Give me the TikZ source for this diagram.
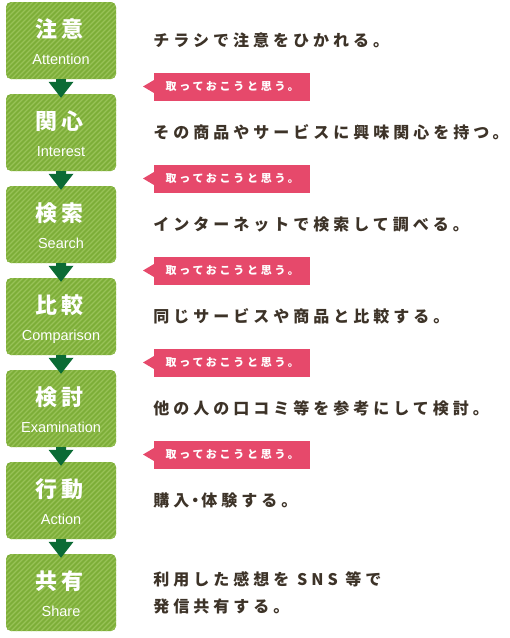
\documentclass[tikz,border=0pt]{standalone}
\usepackage{fontspec}
\setmainfont{Liberation Sans}
\newfontfamily\jp{Noto Sans CJK JP}[LetterSpace=25]
\newfontfamily\jpttl{Noto Sans CJK JP}[LetterSpace=16]
\newfontfamily\jptag{Noto Sans CJK JP}[LetterSpace=25]
\usetikzlibrary{positioning,calc,arrows.meta,trees}
\definecolor{boxgreen}{HTML}{7DAE38}
\definecolor{stripegreen}{HTML}{98C257}
\definecolor{arrowgreen}{HTML}{0B6B35}
\definecolor{tagpink}{HTML}{E6496B}
\definecolor{textbrown}{HTML}{3D3328}
\tikzset{
  level distance=92pt,
  edge from parent/.style = {draw=arrowgreen, line width=10pt, shorten >=-4pt, -{Triangle[width=25pt,length=16pt,line width=0pt]}},
  stripe/.style = {draw=stripegreen, line width=1.2pt},
  stage/.style 2 args = {rectangle, rounded corners=5pt, fill=boxgreen, minimum width=110pt, minimum height=77pt, inner sep=0pt,
    path picture={\foreach \s in {-80,-75,...,110} \draw[stripe] ($(path picture bounding box.south west)+(\s pt,0)$) -- ++(90pt,90pt);},
    label={[ttl]center:#1}, label={[eng]center:#2}},
  ttl/.style = {xshift=-1.5pt, yshift=11.5pt, inner sep=0pt, text height=18.5pt, text depth=2.5pt, text=white, font=\fontsize{22pt}{22pt}\selectfont\jpttl\bfseries},
  eng/.style = {yshift=-20pt, inner sep=0pt, text height=10.5pt, text depth=3pt, text=white, font=\fontsize{14.5pt}{14.5pt}\selectfont},
  desc/.style = {inner sep=0pt, align=left, text=textbrown, font=\fontsize{16pt}{27pt}\selectfont\jp\bfseries},
  tag/.style = {rectangle, fill=tagpink, minimum width=156pt, minimum height=28pt, inner sep=0pt, text=white, font=\fontsize{11pt}{11pt}\selectfont\jptag\bfseries}
}
\begin{document}
\begin{tikzpicture}[x=1pt,y=1pt]
  \useasboundingbox (0,0) rectangle (510,-638);
  \node [stage={注意}{Attention}] (b1) at (61,-40.5) {}
    child{ node [stage={関心}{Interest}] (b2) {}
      child{ node [stage={検索}{Search}] (b3) {}
        child{ node [stage={比較}{Comparison}] (b4) {}
          child{ node [stage={検討}{Examination}] (b5) {}
            child{ node [stage={行動}{Action}] (b6) {}
              child{ node [stage={共有}{Share}] (b7) {}}
            }
          }
        }
      }
    };

  \node [desc, right=37pt of b1] (d1) {チラシで注意をひかれる。};
  \node [desc, right=37pt of b2] (d2) {その商品やサービスに興味関心を持つ。};
  \node [desc, right=37pt of b3] (d3) {インターネットで検索して調べる。};
  \node [desc, right=37pt of b4] (d4) {同じサービスや商品と比較する。};
  \node [desc, right=37pt of b5] (d5) {他の人の口コミ等を参考にして検討。};
  \node [desc, right=37pt of b6] (d6) {購入{\kern-2pt}・{\kern-2pt}体験する。};
  \node [desc, right=37pt of b7] (d7) {利用した感想を SNS 等で\\発信共有する。};

  % pink notes between the steps
  \node [tag, anchor=west] (k1) at ($(b1)!.5!(b2) + (93pt,0)$) {取っておこうと思う。};
  \node [tag, anchor=west] (k2) at ($(b2)!.5!(b3) + (93pt,0)$) {取っておこうと思う。};
  \node [tag, anchor=west] (k3) at ($(b3)!.5!(b4) + (93pt,0)$) {取っておこうと思う。};
  \node [tag, anchor=west] (k4) at ($(b4)!.5!(b5) + (93pt,0)$) {取っておこうと思う。};
  \node [tag, anchor=west] (k5) at ($(b5)!.5!(b6) + (93pt,0)$) {取っておこうと思う。};
  \foreach \i in {1,...,5}
    \fill [tagpink] (k\i.west) ++(0,6.5) -- ++(-11,-6.5) -- ++(11,-6.5) -- cycle;
\end{tikzpicture}
\end{document}
